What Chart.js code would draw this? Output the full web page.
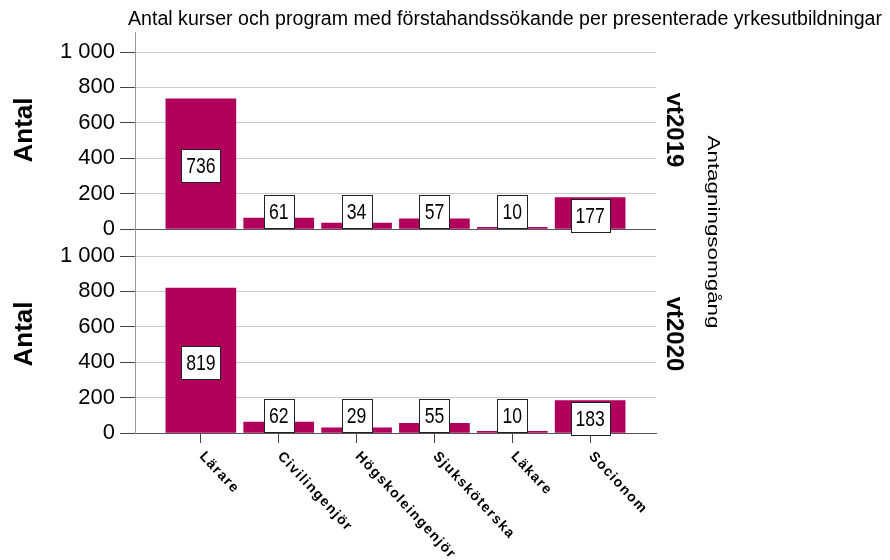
<!DOCTYPE html>
<html>
<head>
<meta charset="utf-8">
<script src="https://cdn.jsdelivr.net/npm/chart.js@4.4.1/dist/chart.umd.min.js"></script>
<style>
  html, body { margin: 0; padding: 0; background: #fff; }
  #wrap { position: relative; width: 890px; height: 560px; }
  #wrap canvas { position: absolute; left: 0; top: 0; }
</style>
</head>
<body>
<div id="wrap">
  <canvas id="chartTop" width="890" height="560"></canvas>
  <canvas id="chartBottom" width="890" height="560"></canvas>
</div>
<script>
const categories = ['Lärare', 'Civilingenjör', 'Högskoleingenjör', 'Sjuksköterska', 'Läkare', 'Socionom'];
const valuesVt2019 = [736, 61, 34, 57, 10, 177];
const valuesVt2020 = [819, 62, 29, 55, 10, 183];
const panelNames = ['vt2019', 'vt2020'];
const yTicks = [0, 200, 400, 600, 800, 1000];
const chartTitle = 'Antal kurser och program med förstahandssökande per presenterade yrkesutbildningar';
const yTitle = 'Antal';
const panelTitle = 'Antagningsomgång';

const FONT = "'Liberation Sans', Arial, sans-serif";
const BAR_COLOR = '#b0005c';
const PLOT_LEFT = 135;
const PLOT_RIGHT = 656;
const panels = [
  { top: 52, bottom: 229 },
  { top: 256, bottom: 433 },
];

Chart.defaults.font.family = FONT;
Chart.defaults.color = '#000';

const formatTick = (value) => String(value).replace(/\B(?=(\d{3})+(?!\d))/g, ' ');

// text drawn rotated, optionally stretched to a given length
const drawRotated = (ctx, text, x, y, angle, font, length = null) => {
  ctx.save();
  ctx.translate(x, y);
  ctx.rotate(angle);
  ctx.font = font;
  ctx.textAlign = 'center';
  ctx.textBaseline = 'middle';
  if (length) {
    ctx.scale(length / ctx.measureText(text).width, 1);
  }
  ctx.fillText(text, 0, 0);
  ctx.restore();
};

// white boxes with the value, SPSS style
const valueBoxes = {
  id: 'valueBoxes',
  afterDatasetsDraw(chart) {
    const { ctx } = chart;
    const y = chart.scales.y;
    const base = y.getPixelForValue(0);
    const points = chart.data.datasets[0].data;
    const squeeze = 0.8;
    ctx.save();
    ctx.font = `22px ${FONT}`;
    ctx.textAlign = 'center';
    ctx.textBaseline = 'middle';
    chart.getDatasetMeta(0).data.forEach((bar, i) => {
      const text = String(points[i].y);
      const w = Math.round(ctx.measureText(text).width * squeeze + 10);
      const h = 33;
      let cy = y.getPixelForValue(points[i].y / 2) + 2;
      if (cy > base - 13) {
        cy = base - 18;
      }
      const left = Math.round(bar.x - w / 2) + 0.5;
      const top = Math.round(cy - h / 2) + 0.5;
      ctx.fillStyle = '#fff';
      ctx.fillRect(left, top, w, h);
      ctx.strokeStyle = '#222';
      ctx.lineWidth = 1;
      ctx.strokeRect(left, top, w, h);
      ctx.fillStyle = '#000';
      ctx.save();
      ctx.translate(bar.x, top + h / 2 + 1);
      ctx.scale(squeeze, 1);
      ctx.fillText(text, 0, 0);
      ctx.restore();
    });
    ctx.restore();
  },
};

const panelTexts = {
  id: 'panelTexts',
  afterDraw(chart, args, opts) {
    const { ctx, chartArea } = chart;
    ctx.save();
    ctx.fillStyle = '#000';
    drawRotated(ctx, yTitle, 25, chartArea.top + 78, -Math.PI / 2, `bold 26px ${FONT}`);
    drawRotated(ctx, panelNames[opts.index], 674, chartArea.top + 78, Math.PI / 2, `bold 24px ${FONT}`);

    if (opts.index === 0) {
      ctx.save();
      ctx.font = `20px ${FONT}`;
      ctx.textAlign = 'center';
      ctx.textBaseline = 'middle';
      ctx.translate(505, 19);
      ctx.scale(754 / ctx.measureText(chartTitle).width, 1);
      ctx.fillText(chartTitle, 0, 0);
      ctx.restore();
      drawRotated(ctx, panelTitle, 712, 232, Math.PI / 2, `16px ${FONT}`, 193);
      // y axis line runs on between the two panels
      ctx.strokeStyle = '#999';
      ctx.lineWidth = 1;
      ctx.beginPath();
      ctx.moveTo(chartArea.left + 0.5, chartArea.top - 20);
      ctx.lineTo(chartArea.left + 0.5, chartArea.bottom + 28);
      ctx.stroke();
    } else {
      const x = chart.scales.x;
      categories.forEach((label, i) => {
        ctx.save();
        ctx.translate(x.getPixelForValue(i) + 1, chartArea.bottom + 21);
        ctx.rotate(47 * Math.PI / 180);
        ctx.font = `bold 14px ${FONT}`;
        ctx.letterSpacing = '1.4px';
        ctx.textAlign = 'left';
        ctx.textBaseline = 'middle';
        ctx.fillText(label, 0, 0);
        ctx.restore();
      });
    }
    ctx.restore();
  },
};

const makeChart = (canvasId, values, index) => {
  const panel = panels[index];
  const isBottom = index === 1;
  const xAxisHeight = isBottom ? 10 : 0;
  return new Chart(document.getElementById(canvasId).getContext('2d'), {
    type: 'bar',
    data: {
      datasets: [{
        data: values.map((v, i) => ({ x: i, y: v })),
        backgroundColor: BAR_COLOR,
        barThickness: 70,
      }],
    },
    options: {
      responsive: false,
      animation: false,
      layout: {
        padding: { left: 0, right: 890 - PLOT_RIGHT, top: panel.top, bottom: 560 - panel.bottom - xAxisHeight },
      },
      plugins: {
        legend: { display: false },
        tooltip: { enabled: false },
        panelTexts: { index },
      },
      scales: {
        x: {
          type: 'linear',
          offset: false,
          min: -0.846,
          max: categories.length - 1 + 0.846,
          display: isBottom,
          afterBuildTicks: (scale) => { scale.ticks = categories.map((_, i) => ({ value: i })); },
          afterFit: (scale) => { scale.height = xAxisHeight; },
          ticks: { display: false },
          grid: { drawOnChartArea: false, offset: false, tickLength: 10, tickColor: '#444' },
          border: { color: '#555' },
        },
        y: {
          min: 0,
          max: 1000,
          afterBuildTicks: (scale) => { scale.ticks = yTicks.map((v) => ({ value: v })); },
          afterFit: (scale) => { scale.width = PLOT_LEFT; },
          ticks: { font: { size: 22 }, color: '#000', padding: 5, callback: formatTick },
          grid: {
            color: (ctx) => (ctx.tick && ctx.tick.value === 0 ? '#555' : '#cccccc'),
            tickColor: '#444',
            tickLength: 15,
          },
          border: { color: '#999' },
        },
      },
    },
    plugins: [valueBoxes, panelTexts],
  });
};

makeChart('chartTop', valuesVt2019, 0);
makeChart('chartBottom', valuesVt2020, 1);
</script>
</body>
</html>
